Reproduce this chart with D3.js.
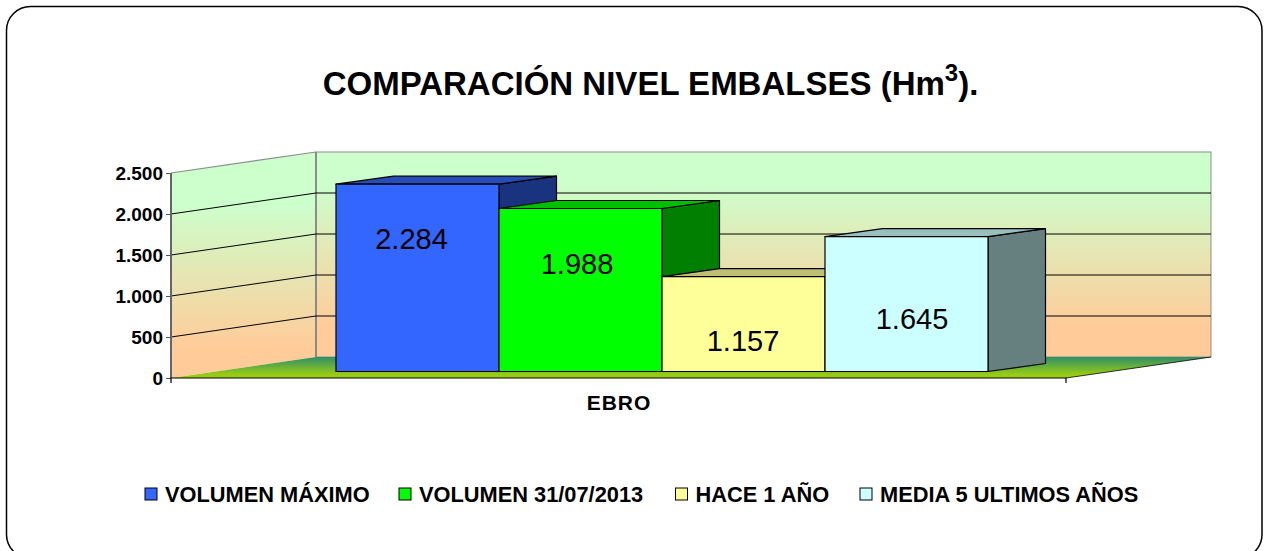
<!DOCTYPE html>
<html><head><meta charset="utf-8">
<script src="https://cdn.jsdelivr.net/npm/d3@7/dist/d3.min.js"></script>
<style>
html,body{margin:0;padding:0;background:#fff;overflow:hidden}
svg{display:block}
text{font-family:"Liberation Sans",Arial,sans-serif;fill:#000}
</style></head><body>
<svg id="c" width="1268" height="551"></svg>
<script>
const categories = ["EBRO"];
const seriesNames = ["VOLUMEN MÁXIMO","VOLUMEN 31/07/2013","HACE 1 AÑO","MEDIA 5 ULTIMOS AÑOS"];
const seriesValues = [2284,1988,1157,1645];
const yTicks = [0,500,1000,1500,2000,2500];
const frontColors = ["#3366ff","#00ff00","#ffff99","#ccffff"];
const topColors = ["#264db8","#00bf00","#bfbf73","#99bfbf"];
const sideColors = ["#1a337f","#007f00","#7f7f4c","#667f7f"];

// layout
const labelDx = [-6,-3.5,-0.5,5.5], labelDy = [55,55.5,64.5,82.5];
const legendSwatchX = [145,399,675.5,860];
const wallDX = 145, wallDY = -21, barFrontDY = -6.5, barDX = 57.5, barDY = -8;

const svg = d3.select("#c");
const defs = svg.append("defs");
function grad(id,y1,y2,stops){
  const g = defs.append("linearGradient").attr("id",id).attr("gradientUnits","userSpaceOnUse")
    .attr("x1",0).attr("x2",0).attr("y1",y1).attr("y2",y2);
  stops.forEach(s=>g.append("stop").attr("offset",s[0]).attr("stop-color",s[1]));
}
const y = d3.scaleLinear().domain([0,2500]).range([378,173]);
const xCat = d3.scaleBand().domain(categories).range([171,1066]);
const xBar = d3.scaleBand().domain(seriesNames).range([336,988]);
const line = d3.line();

grad("wallB",y(2500)+wallDY,y(0)+wallDY,[[0,"#ccffcc"],[0.15,"#ccffcc"],[0.85,"#ffcc99"],[1,"#ffcc99"]]);
grad("wallL",y(2500),y(0),[[0,"#ccffcc"],[0.15,"#ccffcc"],[0.85,"#ffcc99"],[1,"#ffcc99"]]);
grad("floor",y(0)+wallDY,y(0),[[0,"#2f8f68"],[0.85,"#99cc14"],[1,"#99cc14"]]);

// outer frame
svg.append("rect").attr("x",6.5).attr("y",6.5).attr("width",1255.5).attr("height",552).attr("rx",24)
  .attr("fill","#fff").attr("stroke","#000").attr("stroke-width",1.5);

// title
const title = svg.append("text").attr("x",650.5).attr("y",95).attr("text-anchor","middle")
  .attr("font-size",33).attr("font-weight","bold");
title.append("tspan").text("COMPARACIÓN NIVEL EMBALSES (Hm");
title.append("tspan").attr("dy",-14).attr("font-size",24).text("3");
title.append("tspan").attr("dy",14).text(").");

// walls
const x0 = xCat.range()[0], x1 = xCat.range()[1];
svg.append("path").attr("d",line([[x0,y(2500)],[x0+wallDX,y(2500)+wallDY],[x0+wallDX,y(0)+wallDY],[x0,y(0)]])+"Z")
  .attr("fill","url(#wallL)").attr("stroke","none");
svg.append("rect").attr("x",x0+wallDX).attr("y",y(2500)+wallDY).attr("width",x1-x0).attr("height",y(0)-y(2500))
  .attr("fill","url(#wallB)").attr("stroke","#8c8c8c").attr("stroke-width",1);
svg.append("path").attr("d",line([[x0,y(2500)],[x0+wallDX,y(2500)+wallDY]])).attr("stroke","#8c8c8c").attr("stroke-width",1.2).attr("fill","none");
svg.append("path").attr("d",line([[x0+wallDX,y(2500)+wallDY],[x0+wallDX,y(0)+wallDY]])).attr("stroke","#808080").attr("stroke-width",1.6).attr("fill","none");

// gridlines
yTicks.filter(t=>t>0 && t<2500).forEach(t=>{
  svg.append("path").attr("fill","none").attr("stroke","#000").attr("stroke-width",1)
    .attr("d",line([[x0,y(t)],[x0+wallDX,y(t)+wallDY],[x1+wallDX,y(t)+wallDY]]));
});

// floor
svg.append("path").attr("d",line([[x0,y(0)],[x0+wallDX,y(0)+wallDY],[x1+wallDX,y(0)+wallDY],[x1,y(0)]])+"Z")
  .attr("fill","url(#floor)");
svg.append("path").attr("d",line([[x1,y(0)],[x1+wallDX,y(0)+wallDY]])).attr("stroke","#000").attr("stroke-width",0.8).attr("fill","none");

// bars
const base = y(0)+barFrontDY;
const bars = svg.append("g").attr("stroke","#000").attr("stroke-width",1.2).attr("stroke-linejoin","round");
seriesNames.forEach((s,i)=>{
  const l = xBar(s), r = l+xBar.bandwidth(), t = y(seriesValues[i])+barFrontDY;
  bars.append("path").attr("fill",sideColors[i]).attr("d",line([[r,t],[r+barDX,t+barDY],[r+barDX,base+barDY],[r,base]])+"Z");
  bars.append("path").attr("fill",topColors[i]).attr("d",line([[l,t],[l+barDX,t+barDY],[r+barDX,t+barDY],[r,t]])+"Z");
  bars.append("rect").attr("fill",frontColors[i]).attr("x",l).attr("y",t).attr("width",r-l).attr("height",base-t);
});
// value labels
const es = d3.formatLocale({decimal:",",thousands:".",grouping:[3],currency:["","€"]});
const fmt = es.format(",d");
seriesNames.forEach((s,i)=>{
  svg.append("text").attr("x",xBar(s)+xBar.bandwidth()/2+labelDx[i]).attr("y",y(seriesValues[i])+barFrontDY+labelDy[i])
    .attr("text-anchor","middle").attr("dominant-baseline","central").attr("font-size",29).text(fmt(seriesValues[i]));
});

// y axis
const gy = svg.append("g").attr("transform",`translate(${x0},0)`)
  .call(d3.axisLeft(y).tickValues(yTicks).tickFormat(fmt).tickSize(5).tickPadding(3));
gy.selectAll("path").attr("stroke","#666").attr("stroke-width",2).attr("d",`M0,${y(2500)}V${y(0)}`);
gy.selectAll("line").attr("stroke","#555").attr("stroke-width",1);
gy.selectAll("text").attr("font-family","Liberation Sans").attr("font-size",19).attr("font-weight","bold").attr("dy","0.34em");

// x axis
const gx = svg.append("g").attr("transform",`translate(0,${y(0)})`)
  .call(d3.axisBottom(xCat).tickSizeOuter(5).tickSize(0).tickPadding(17));
gx.selectAll("path").attr("stroke","#000").attr("stroke-width",1.2).attr("d",`M${x0},5V0H${x1}V5`);
gx.selectAll("text").attr("font-family","Liberation Sans").attr("font-size",21).attr("font-weight","bold")
  .attr("letter-spacing",0.9).attr("dx",0.5);

// legend
const lg = svg.append("g");
seriesNames.forEach((s,i)=>{
  lg.append("rect").attr("x",legendSwatchX[i]).attr("y",488).attr("width",12).attr("height",12)
    .attr("fill",frontColors[i]).attr("stroke","#000").attr("stroke-width",1);
  lg.append("text").attr("x",legendSwatchX[i]+20).attr("y",502).attr("font-size",21.8).attr("font-weight","bold").text(s);
});
</script></body></html>
